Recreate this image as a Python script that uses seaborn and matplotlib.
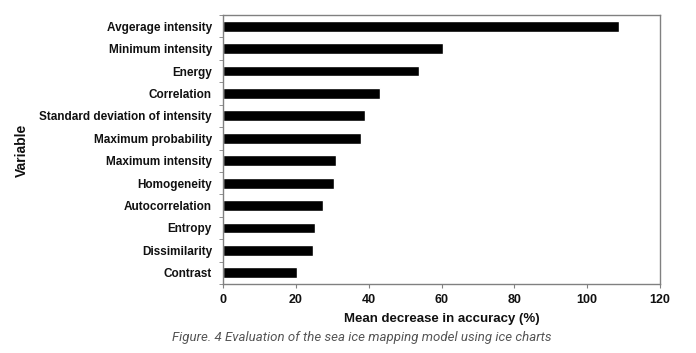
import numpy as np
import pandas as pd
import seaborn as sns
import matplotlib.pyplot as plt
from matplotlib.ticker import FixedLocator

# Variable importance values
variables = ['Avgerage intensity', 'Minimum intensity', 'Energy', 'Correlation',
             'Standard deviation of intensity', 'Maximum probability',
             'Maximum intensity', 'Homogeneity', 'Autocorrelation', 'Entropy',
             'Dissimilarity', 'Contrast']
decrease = [108.7, 60.5, 53.8, 43.1, 39.0, 37.9, 31.0, 30.4, 27.5, 25.3, 24.7, 20.4]

df = pd.DataFrame({'variable': variables, 'decrease': decrease})

sns.set_style('white')
plt.rcParams['font.family'] = ['Liberation Sans', 'DejaVu Sans']

fig = plt.figure(figsize=(6.96, 3.53), dpi=100)
ax = fig.add_axes([223 / 696, 1 - 284 / 353, (660 - 223) / 696, (284 - 15) / 353])

sns.barplot(x='decrease', y='variable', data=df, color='black', width=0.48,
            ax=ax, orient='h', saturation=1)

ax.set_xlim(0, 120)
ax.set_ylim(len(variables) - 0.5, -0.5)
ax.set_xticks(np.arange(0, 121, 20))
ax.yaxis.set_minor_locator(FixedLocator(np.arange(-0.5, len(variables), 1)))

for s in ax.spines.values():
    s.set_color('#808080')
    s.set_linewidth(1.0)

ax.tick_params(axis='y', which='major', length=0, pad=8, labelsize=8.5, labelcolor='#111111')
ax.tick_params(axis='y', which='minor', left=True, length=3, color='#808080', direction='out')
ax.tick_params(axis='x', which='major', bottom=True, length=3, color='#808080', direction='out',
               labelsize=9, labelcolor='#111111', pad=4)
for lab in ax.get_xticklabels() + ax.get_yticklabels():
    lab.set_fontweight('bold')

ax.set_xlabel('Mean decrease in accuracy (%)', fontsize=9.5, fontweight='bold', color='#111111', labelpad=5)
ax.set_ylabel('')
fig.text(22 / 696, 1 - 150 / 353, 'Variable', rotation=90, ha='center', va='center',
         fontsize=10, fontweight='bold', color='#111111')

fig.text(362 / 696, 1 - 338 / 353, 'Figure. 4 Evaluation of the sea ice mapping model using ice charts',
         ha='center', va='center', fontsize=9.5, style='italic', color='#555555',
         family=['Roboto', 'DejaVu Sans'])

fig.savefig('out.png', dpi=100, facecolor='white')
